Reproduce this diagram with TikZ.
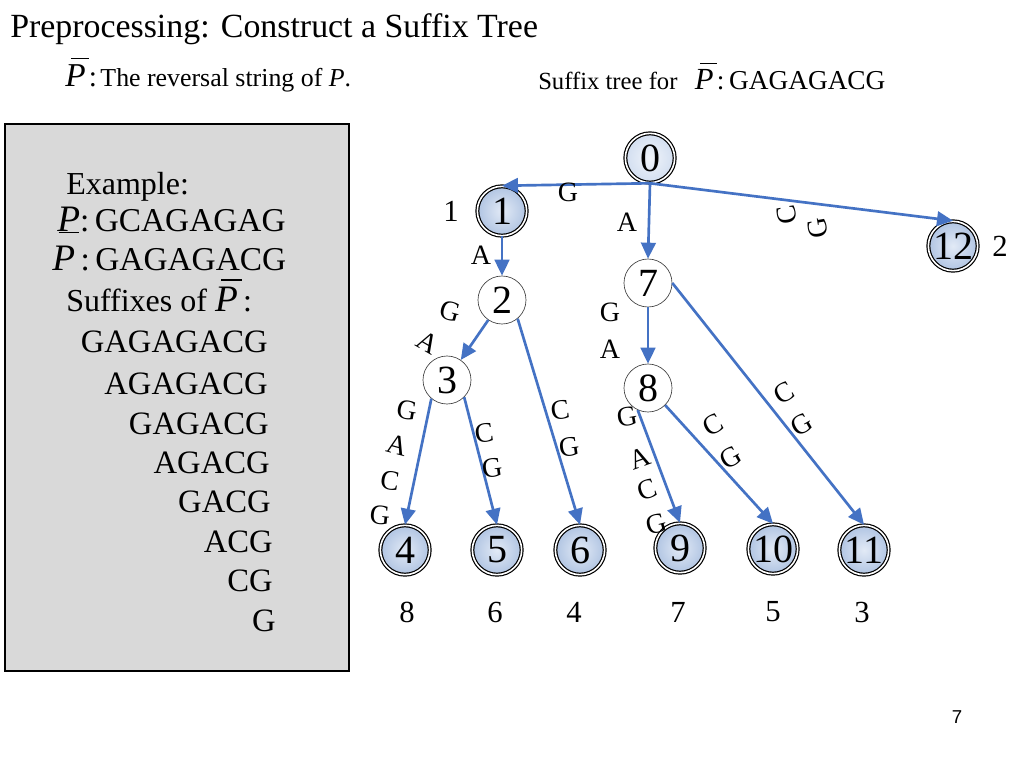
\documentclass[tikz,border=0pt]{standalone}
\usepackage{fontspec}
\setmainfont{Liberation Serif}
\newfontfamily\sansf{Liberation Sans}
\usetikzlibrary{arrows.meta}
\definecolor{edgeblue}{RGB}{68,114,196}
\definecolor{boxgray}{RGB}{217,217,217}
\definecolor{leafA}{RGB}{226,234,246}
\definecolor{leafB}{RGB}{176,196,226}
\definecolor{rootA}{RGB}{240,244,250}
\definecolor{rootB}{RGB}{210,222,240}
\newcommand{\fs}[1]{\fontsize{#1}{#1}\selectfont}
\newcommand{\PB}[1][0.8em]{\hbox{\rlap{\kern0.17em\raisebox{#1}{\rule{0.55em}{0.05em}}}\textit{P}}}
\begin{document}
\begin{tikzpicture}[x=0.75pt,y=-0.75pt,
  leafnode/.style={circle, draw=black, line width=0.9pt, double=white, double distance=1.2pt,
     inner sep=0pt, minimum size=37pt, inner color=leafA, outer color=leafB, font=\fs{30}},
  rootnode/.style={leafnode, inner color=rootA, outer color=rootB},
  intnode/.style={circle, draw=black!75, line width=0.5pt, fill=white, inner sep=0pt,
     minimum size=36pt, font=\fs{30}},
  edge/.style={draw=edgeblue, line width=2pt, -{Triangle[length=12pt,width=11pt]}},
  elab/.style={font=\fs{21}, inner sep=0pt},
  nlab/.style={font=\fs{23}, inner sep=0pt},
  txt/.style={inner sep=0pt, anchor=base west},
  suf/.style={inner sep=0pt, anchor=base east, font=\fs{24.5}}]
\useasboundingbox (0,0) rectangle (1024,768);
\fill[white] (0,0) rectangle (1024,768);

% titles
\node[txt, font=\fs{25.4}] (title) at (10,37) {Preprocessing: Construct a Suffix Tree};
\node[txt] (rev) at (65,86) {{\fs{25}\PB}\ {\fs{22}:}\ {\fs{19.4}The reversal string of \textit{P}.}};
\node[txt] (sfx) at (538,89) {{\fs{18.5}Suffix tree for}\hspace{13pt}{\fs{23}\PB}\ {\fs{20.5}:\,GAGAGACG}};

% left box
\draw[fill=boxgray, line width=1.4pt] (5,124) rectangle (349,671);
\node[txt, font=\fs{24}] (ex) at (66,194) {Example:};
\node[txt, font=\fs{25}] (p1) at (57,231) {{\fs{28}\textit{P}}:\,GCAGAGAG};
\node[txt, font=\fs{25}] (p2) at (52,270) {{\fs{28}\PB[0.98em]}\,:\,GAGAGACG};
\node[txt, font=\fs{24}] (sx) at (66,311) {Suffixes of {\fs{28}\PB}\,:};
\node[suf] (s1) at (268,352) {GAGAGACG};
\node[suf] (s2) at (268,394) {AGAGACG};
\node[suf] (s3) at (269,434) {GAGACG};
\node[suf] (s4) at (270,473) {AGACG};
\node[suf] (s5) at (271,512) {GACG};
\node[suf] (s6) at (273,552) {ACG};
\node[suf] (s7) at (273,591) {CG};
\node[suf] (s8) at (276,631) {G};

% tree nodes
\node[rootnode] (n0) at (650,158) {0};
\node[leafnode] (n1) at (502,211) {1};
\node[leafnode] (n12) at (953,246) {12};
\node[intnode] (n2) at (502,300) {2};
\node[intnode] (n7) at (648,283) {7};
\node[intnode] (n3) at (447,380) {3};
\node[intnode] (n8) at (648,388) {8};
\node[leafnode] (n4) at (405,550) {4};
\node[leafnode] (n5) at (497,550) {5};
\node[leafnode] (n6) at (580,550) {6};
\node[leafnode] (n9) at (680,548) {9};
\node[leafnode] (n10) at (773,549) {10};
\node[leafnode] (n11) at (864,550) {11};

% edges
\draw[edge] (n0.south) -- (n1.north);
\draw[edge] (n0.south) -- (n7.north);
\draw[edge] (n0.south) -- (n12.north);
\draw[edge] (n1) -- (n2);
\draw[edge] (n2) -- (n3);
\draw[edge] (n2.-50) -- (n6.north);
\draw[edge] (n3.-130) -- (n4.north);
\draw[edge] (n3.-45) -- (n5.north);
\draw[edge] (n7) -- (n8);
\draw[edge] (n7.east) -- (n11.north);
\draw[edge] (n8.-115) -- (n9.north);
\draw[edge] (n8.-45) -- (n10.north);

% edge labels
\node[elab] (e01) at (568,192) {G};
\node[elab] (e07) at (627,222) {A};
\node[elab, rotate=100] (e0c1) at (787,215) {C};
\node[elab, rotate=100] (e0c2) at (818,228) {G};
\node[elab] (e12) at (481,255) {A};
\node[elab, rotate=-15] (e23a) at (450,311) {G};
\node[elab, rotate=-30] (e23b) at (428,343) {A};
\node[elab, rotate=8] (e26a) at (560,410) {C};
\node[elab, rotate=8] (e26b) at (569,447) {G};
\node[elab, rotate=-10] (e34a) at (407,410) {G};
\node[elab, rotate=-15] (e34b) at (397,445) {A};
\node[elab, rotate=-8] (e34c) at (390,481) {C};
\node[elab, rotate=-5] (e34d) at (380,515) {G};
\node[elab, rotate=8] (e35a) at (484,433) {C};
\node[elab, rotate=8] (e35b) at (492,468) {G};
\node[elab] (e78a) at (610,312) {G};
\node[elab] (e78b) at (610,349) {A};
\node[elab, rotate=30] (e711a) at (784,393) {C};
\node[elab, rotate=30] (e711b) at (802,425) {G};
\node[elab, rotate=10] (e89a) at (627,417) {G};
\node[elab, rotate=20] (e89b) at (640,458) {A};
\node[elab, rotate=20] (e89c) at (647,490) {C};
\node[elab, rotate=15] (e89d) at (656,524) {G};
\node[elab, rotate=30] (e810a) at (713,425) {C};
\node[elab, rotate=30] (e810b) at (731,458) {G};

% leaf numbers
\node[nlab] (l1) at (451,211) {1};
\node[nlab] (l12) at (1000,246) {2};
\node[nlab] (l4) at (407,612) {8};
\node[nlab] (l5) at (495,612) {6};
\node[nlab] (l6) at (574,612) {4};
\node[nlab] (l9) at (678,612) {7};
\node[nlab] (l10) at (773,612) {5};
\node[nlab] (l11) at (862,612) {3};

\node[inner sep=0pt, font=\sansf\fs{14}] (pg) at (957,717) {7};
\end{tikzpicture}
\end{document}
